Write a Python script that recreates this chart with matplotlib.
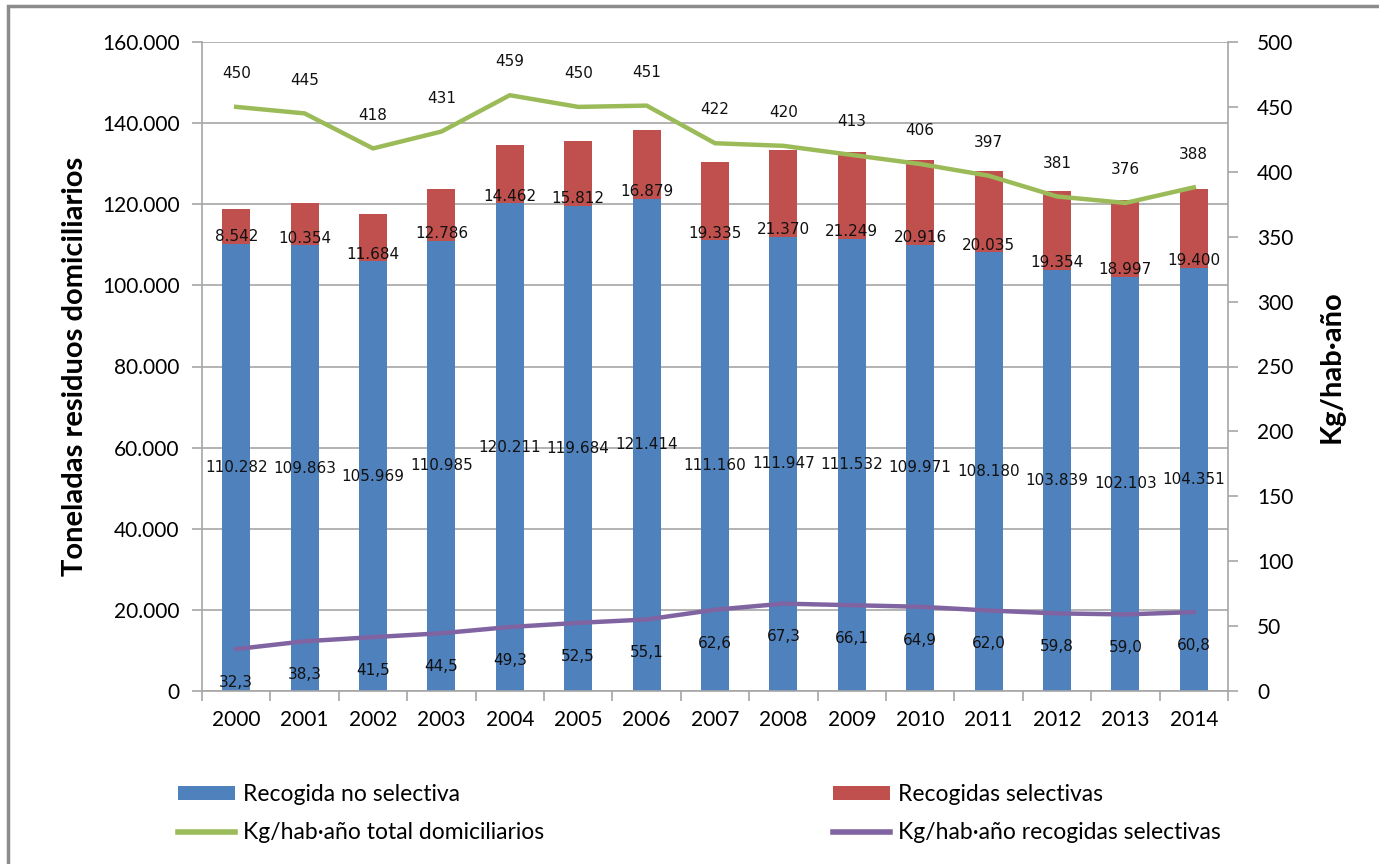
import numpy as np
import matplotlib
matplotlib.use("Agg")
import matplotlib.pyplot as plt
from matplotlib.patches import Patch, Rectangle
from matplotlib.lines import Line2D
from matplotlib.ticker import FuncFormatter, MultipleLocator

years = ['2000', '2001', '2002', '2003', '2004', '2005', '2006', '2007',
         '2008', '2009', '2010', '2011', '2012', '2013', '2014']
no_selectiva = [110282, 109863, 105969, 110985, 120211, 119684, 121414, 111160,
                111947, 111532, 109971, 108180, 103839, 102103, 104351]
selectivas = [8542, 10354, 11684, 12786, 14462, 15812, 16879, 19335,
              21370, 21249, 20916, 20035, 19354, 18997, 19400]
kg_total = [450, 445, 418, 431, 459, 450, 451, 422, 420, 413, 406, 397, 381, 376, 388]
kg_selectivas = [32.3, 38.3, 41.5, 44.5, 49.3, 52.5, 55.1, 62.6,
                 67.3, 66.1, 64.9, 62.0, 59.8, 59.0, 60.8]

BLUE = '#4F81BD'
RED = '#C0504D'
GREEN = '#9BBB59'
PURPLE = '#8064A2'
GRID = '#A6A6A6'

plt.rcParams['font.family'] = ['Lato', 'DejaVu Sans']


def miles(v, pos):
    return f'{int(v):,}'.replace(',', '.')


def coma(v):
    return f'{v:.1f}'.replace('.', ',')


fig = plt.figure(figsize=(13.79, 8.64), dpi=100)
fig.patches.append(Rectangle((8 / 1379, -0.05), 1.1, (858 / 864) + 0.05, transform=fig.transFigure,
                             fill=False, edgecolor='#8C8C8C', linewidth=2.5))

ax = fig.add_axes([202 / 1379, 1 - 691 / 864, 1026 / 1379, 649 / 864])
x = np.arange(len(years))
w = 0.41

ax.bar(x, no_selectiva, w, color=BLUE, zorder=2)
ax.bar(x, selectivas, w, bottom=no_selectiva, color=RED, zorder=2)

for i in range(len(years)):
    ax.text(x[i], no_selectiva[i] / 2, miles(no_selectiva[i], None), ha='center', va='center',
            fontsize=11, family='DejaVu Sans', color='#111111', zorder=4)
    ax.annotate(miles(selectivas[i], None), (x[i], no_selectiva[i]), xytext=(0, 5),
                textcoords='offset points', ha='center', va='center',
                fontsize=11, family='DejaVu Sans', color='#111111', zorder=4)

ax.set_xlim(-0.5, len(years) - 0.5)
ax.set_ylim(0, 160000)
ax.yaxis.set_major_locator(MultipleLocator(20000))
ax.yaxis.set_major_formatter(FuncFormatter(miles))
ax.grid(axis='y', color=GRID, linewidth=1.2, zorder=0)
ax.set_axisbelow(True)
ax.set_xticks(x)
ax.set_xticklabels(years)
ax.set_xticks(np.arange(-0.5, len(years)), minor=True)
ax.tick_params(axis='x', which='major', length=0, pad=14, labelsize=15)
ax.tick_params(axis='x', which='minor', length=7, color=GRID, width=1.2)
ax.tick_params(axis='y', length=7, color=GRID, width=1.2, pad=9, labelsize=15)
for s in ['top', 'right']:
    ax.spines[s].set_visible(False)
for s in ['left', 'bottom']:
    ax.spines[s].set_color(GRID)
    ax.spines[s].set_linewidth(1.2)
ax.set_ylabel('Toneladas residuos domiciliarios', fontsize=21, fontweight='bold', labelpad=10)

ax2 = ax.twinx()
ax2.plot(x, kg_total, color=GREEN, linewidth=3.2, zorder=3, solid_joinstyle='round')
ax2.plot(x, kg_selectivas, color=PURPLE, linewidth=3.2, zorder=3, solid_joinstyle='round')
for i in range(len(years)):
    ax2.annotate(str(kg_total[i]), (x[i], kg_total[i]), xytext=(0, 24), textcoords='offset points',
                 ha='center', va='center', fontsize=11, family='DejaVu Sans', color='#111111')
    ax2.annotate(coma(kg_selectivas[i]), (x[i], kg_selectivas[i]), xytext=(0, -24),
                 textcoords='offset points', ha='center', va='center', fontsize=11,
                 family='DejaVu Sans', color='#111111')
ax2.set_ylim(0, 500)
ax2.yaxis.set_major_locator(MultipleLocator(50))
ax2.tick_params(axis='y', length=7, color=GRID, width=1.2, pad=14, labelsize=15)
for s in ['top', 'left', 'bottom']:
    ax2.spines[s].set_visible(False)
ax2.spines['right'].set_color(GRID)
ax2.spines['right'].set_linewidth(1.2)
ax2.set_ylabel('Kg/hab·año', fontsize=21, fontweight='bold', labelpad=18)

h1 = [Patch(facecolor=BLUE, edgecolor='none'),
      Line2D([], [], color=GREEN, linewidth=4)]
l1 = ['Recogida no selectiva', 'Kg/hab·año total domiciliarios']
h2 = [Patch(facecolor=RED, edgecolor='none'),
      Line2D([], [], color=PURPLE, linewidth=4)]
l2 = ['Recogidas selectivas', 'Kg/hab·año recogidas selectivas']
leg_kw = dict(loc='upper left', frameon=False, fontsize=16.5, handlelength=2.5,
              handleheight=0.6, handletextpad=0.35, labelspacing=0.75, borderpad=0, borderaxespad=0)
fig.legend(h1, l1, bbox_to_anchor=(178 / 1379, 1 - 784 / 864), **leg_kw)
fig.legend(h2, l2, bbox_to_anchor=(833 / 1379, 1 - 784 / 864), **leg_kw)

fig.savefig('out.png', dpi=100)
